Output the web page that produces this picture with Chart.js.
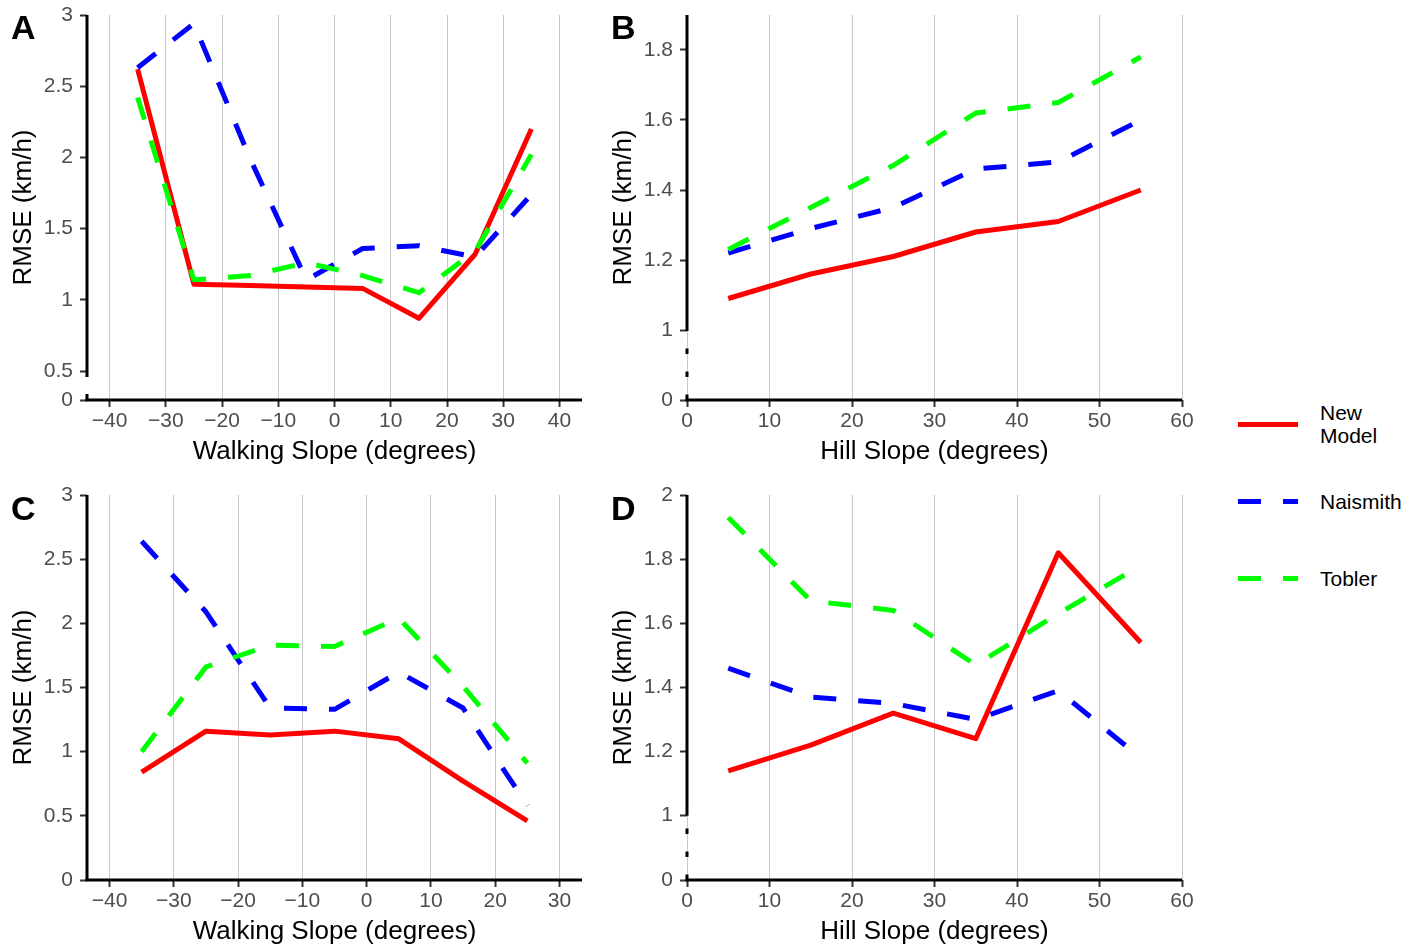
<!DOCTYPE html>
<html>
<head>
<meta charset="utf-8">
<script src="https://cdn.jsdelivr.net/npm/chart.js@4.4.1/dist/chart.umd.min.js"></script>
<style>
  body { margin: 0; background: #fff; width: 1419px; height: 948px; overflow: hidden; position: relative;
         font-family: "Liberation Sans", Arial, sans-serif; }
  canvas { position: absolute; }
  .tag { position: absolute; font-weight: bold; font-size: 34px; line-height: 34px; color: #000; }
  .key { position: absolute; left: 1238px; width: 60px; height: 5px; }
  .keytext { position: absolute; left: 1320px; font-size: 21px; line-height: 23px; color: #000; white-space: pre-line; }
</style>
</head>
<body>
<canvas id="panelA" width="600" height="470" style="left:0;top:0"></canvas>
<canvas id="panelB" width="600" height="470" style="left:600px;top:0"></canvas>
<canvas id="panelC" width="600" height="470" style="left:0;top:480px"></canvas>
<canvas id="panelD" width="600" height="470" style="left:600px;top:480px"></canvas>
<div class="tag" style="left:11px;top:10px">A</div>
<div class="tag" style="left:611px;top:10px">B</div>
<div class="tag" style="left:11px;top:491px">C</div>
<div class="tag" style="left:611px;top:491px">D</div>
<div id="legend"></div>
<script>
// series names / colours
const seriesLabels = ["New\nModel", "Naismith", "Tobler"];
const seriesColors = ["#ff0000", "#0000ff", "#00ff00"];

// A: walking slope, set 1
const walkSlopeA = [-35, -25, -15, -5, 5, 15, 25, 35];
const newModelA = [2.62, 1.11, 1.10, 1.09, 1.08, 0.87, 1.32, 2.20];
const naismithA = [2.63, 2.94, 1.99, 1.14, 1.36, 1.38, 1.30, 1.74];
const toblerA = [2.42, 1.14, 1.17, 1.26, 1.17, 1.05, 1.34, 2.02];

// B: hill slope, set 1
const hillSlopeB = [5, 15, 25, 35, 45, 55];
const newModelB = [1.09, 1.16, 1.21, 1.28, 1.31, 1.40];
const naismithB = [1.22, 1.29, 1.35, 1.46, 1.48, 1.60];
const toblerB = [1.23, 1.35, 1.47, 1.62, 1.65, 1.78];

// C: walking slope, set 2
const walkSlopeC = [-35, -25, -15, -5, 5, 15, 25];
const newModelC = [0.84, 1.16, 1.13, 1.16, 1.10, 0.77, 0.46];
const naismithC = [2.64, 2.09, 1.34, 1.33, 1.62, 1.34, 0.58];
const toblerC = [1.00, 1.66, 1.83, 1.82, 2.04, 1.51, 0.91];

// D: hill slope, set 2
const hillSlopeD = [5, 15, 25, 35, 45, 55];
const newModelD = [1.14, 1.22, 1.32, 1.24, 1.82, 1.54];
const naismithD = [1.46, 1.37, 1.35, 1.30, 1.39, 1.18];
const toblerD = [1.93, 1.67, 1.64, 1.47, 1.63, 1.78];

// tick labels
const walkTicksA = [-40, -30, -20, -10, 0, 10, 20, 30, 40];
const walkTicksC = [-40, -30, -20, -10, 0, 10, 20, 30];
const hillTicks = [0, 10, 20, 30, 40, 50, 60];
const rmseTicksA = [0, 0.5, 1, 1.5, 2, 2.5, 3];
const rmseTicksB = [0, 1, 1.2, 1.4, 1.6, 1.8];
const rmseTicksC = [0, 0.5, 1, 1.5, 2, 2.5, 3];
const rmseTicksD = [0, 1, 1.2, 1.4, 1.6, 1.8, 2];

// linear scale with a compressed stretch below the break value
class BrokenScale extends Chart.LinearScale {
  _dec(v) {
    const at = this.options.brkAt, frac = this.options.brkFrac;
    if (at == null) return (v - this.min) / (this.max - this.min);
    if (v <= at) return (v - this.min) / (at - this.min) * frac;
    return frac + (v - at) / (this.max - at) * (1 - frac);
  }
  getPixelForValue(v) {
    return v == null ? NaN : this.getPixelForDecimal(this._dec(v));
  }
  getValueForPixel(p) {
    const d = this.getDecimalForPixel(p);
    const at = this.options.brkAt, frac = this.options.brkFrac;
    if (at == null) return this.min + d * (this.max - this.min);
    if (d <= frac) return this.min + d / frac * (at - this.min);
    return at + (d - frac) / (1 - frac) * (this.max - at);
  }
}
BrokenScale.id = "broken";
BrokenScale.defaults = Chart.LinearScale.defaults;
Chart.register(BrokenScale);

const axisLines = {
  id: "axisLines",
  afterDraw(chart, args, opts) {
    const { ctx, chartArea: a, scales } = chart;
    const y = scales.y;
    ctx.save();
    ctx.strokeStyle = "#000";
    ctx.lineWidth = 3;
    ctx.lineCap = "butt";
    ctx.beginPath();
    ctx.moveTo(a.left - 1.5, a.bottom);
    ctx.lineTo(a.right, a.bottom);
    ctx.stroke();
    ctx.beginPath();
    if (opts.style === "gap") {
      const b = y.getPixelForValue(opts.brkAt);
      ctx.moveTo(a.left, a.top);
      ctx.lineTo(a.left, b + 6);
      ctx.moveTo(a.left, a.bottom - 6);
      ctx.lineTo(a.left, a.bottom);
      ctx.stroke();
    } else if (opts.style === "dotted") {
      const b = y.getPixelForValue(opts.brkAt);
      ctx.moveTo(a.left, a.top);
      ctx.lineTo(a.left, b);
      ctx.stroke();
      ctx.beginPath();
      ctx.setLineDash([5.5, 17.5]);
      ctx.moveTo(a.left, a.bottom);
      ctx.lineTo(a.left, b);
      ctx.stroke();
    } else {
      ctx.moveTo(a.left, a.top);
      ctx.lineTo(a.left, a.bottom);
      ctx.stroke();
    }
    ctx.restore();
  }
};

const fontFamily = '"Liberation Sans", Arial, sans-serif';
const dash = [23, 22];

function minusSign(v) {
  return v < 0 ? "\u2212" + Math.abs(v) : String(v);
}

function series(label, xs, ys, color, d, order) {
  return {
    label: label,
    data: xs.map((x, i) => ({ x: x, y: ys[i] })),
    borderColor: color,
    borderWidth: 5,
    borderDash: d,
    borderCapStyle: "butt",
    borderJoinStyle: "round",
    pointRadius: 0,
    tension: 0,
    fill: false,
    order: order
  };
}

function makePanel(id, p) {
  new Chart(document.getElementById(id), {
    type: "line",
    data: {
      datasets: [
        series("New Model", p.xs, p.red, seriesColors[0], [], 2),
        series("Naismith", p.xs, p.blue, seriesColors[1], dash, 1),
        series("Tobler", p.xs, p.green, seriesColors[2], dash, 0)
      ]
    },
    options: {
      responsive: false,
      devicePixelRatio: 1,
      animation: false,
      events: [],
      layout: { padding: { top: 15, right: 18, left: 0, bottom: 0 } },
      plugins: {
        legend: { display: false },
        tooltip: { enabled: false },
        axisLines: { style: p.axisStyle, brkAt: p.brkAt }
      },
      scales: {
        x: {
          type: "linear",
          min: p.xMin,
          max: p.xMax,
          bounds: "data",
          afterBuildTicks: s => { s.ticks = p.xTicks.map(v => ({ value: v })); },
          afterFit: s => { s.height = 70; s.paddingLeft = 0; s.paddingRight = 0; },
          border: { display: false },
          grid: { color: "#c8c8c8", lineWidth: 1, tickColor: "#333", tickWidth: 2, tickLength: 7 },
          ticks: {
            autoSkip: false, maxRotation: 0, padding: 2,
            color: "#4d4d4d", font: { family: fontFamily, size: 21 },
            callback: v => minusSign(v)
          },
          title: {
            display: true, text: p.xTitle, color: "#000",
            font: { family: fontFamily, size: 26 },
            padding: { top: 0, bottom: 3 }
          }
        },
        y: {
          type: "broken",
          min: 0,
          max: p.yMax,
          bounds: "data",
          brkAt: p.brkAt,
          brkFrac: p.brkFrac,
          afterBuildTicks: s => { s.ticks = p.yTicks.map(v => ({ value: v })); },
          afterFit: s => { s.width = 87; s.paddingTop = 0; s.paddingBottom = 0; },
          border: { display: false },
          grid: { drawOnChartArea: false, tickColor: "#333", tickWidth: 2, tickLength: 7 },
          ticks: {
            autoSkip: false, padding: 7,
            color: "#4d4d4d", font: { family: fontFamily, size: 21 },
            callback: v => String(v)
          },
          title: {
            display: true, text: "RMSE (km/h)", color: "#000",
            font: { family: fontFamily, size: 26 },
            padding: { top: 8, bottom: 0 }
          }
        }
      }
    },
    plugins: [axisLines]
  });
}

makePanel("panelA", {
  xs: walkSlopeA, red: newModelA, blue: naismithA, green: toblerA,
  xMin: -44, xMax: 44, xTicks: walkTicksA, xTitle: "Walking Slope (degrees)",
  yMax: 3, yTicks: rmseTicksA, brkAt: 0.5, brkFrac: 29 / 385, axisStyle: "gap"
});
makePanel("panelB", {
  xs: hillSlopeB, red: newModelB, blue: naismithB, green: toblerB,
  xMin: 0, xMax: 60, xTicks: hillTicks, xTitle: "Hill Slope (degrees)",
  yMax: 1.9, yTicks: rmseTicksB, brkAt: 1, brkFrac: 70 / 385, axisStyle: "dotted"
});
makePanel("panelC", {
  xs: walkSlopeC, red: newModelC, blue: naismithC, green: toblerC,
  xMin: -43.5, xMax: 33.5, xTicks: walkTicksC, xTitle: "Walking Slope (degrees)",
  yMax: 3, yTicks: rmseTicksC, brkAt: null, brkFrac: null, axisStyle: "solid"
});
makePanel("panelD", {
  xs: hillSlopeD, red: newModelD, blue: naismithD, green: toblerD,
  xMin: 0, xMax: 60, xTicks: hillTicks, xTitle: "Hill Slope (degrees)",
  yMax: 2, yTicks: rmseTicksD, brkAt: 1, brkFrac: 64.3 / 385, axisStyle: "dotted"
});

// legend
const legend = document.getElementById("legend");
const keyY = [424, 501, 578];
seriesLabels.forEach((label, i) => {
  const key = document.createElement("div");
  key.className = "key";
  key.style.top = (keyY[i] - 2.5) + "px";
  const c = seriesColors[i];
  key.style.background = i === 0 ? c
    : "linear-gradient(to right, " + c + " 0 23px, transparent 23px 45px, " + c + " 45px 60px)";
  legend.appendChild(key);
  const txt = document.createElement("div");
  txt.className = "keytext";
  const lines = label.split("\n").length;
  txt.style.top = (keyY[i] - 11.5 * lines) + "px";
  txt.textContent = label;
  legend.appendChild(txt);
});
</script>
</body>
</html>
